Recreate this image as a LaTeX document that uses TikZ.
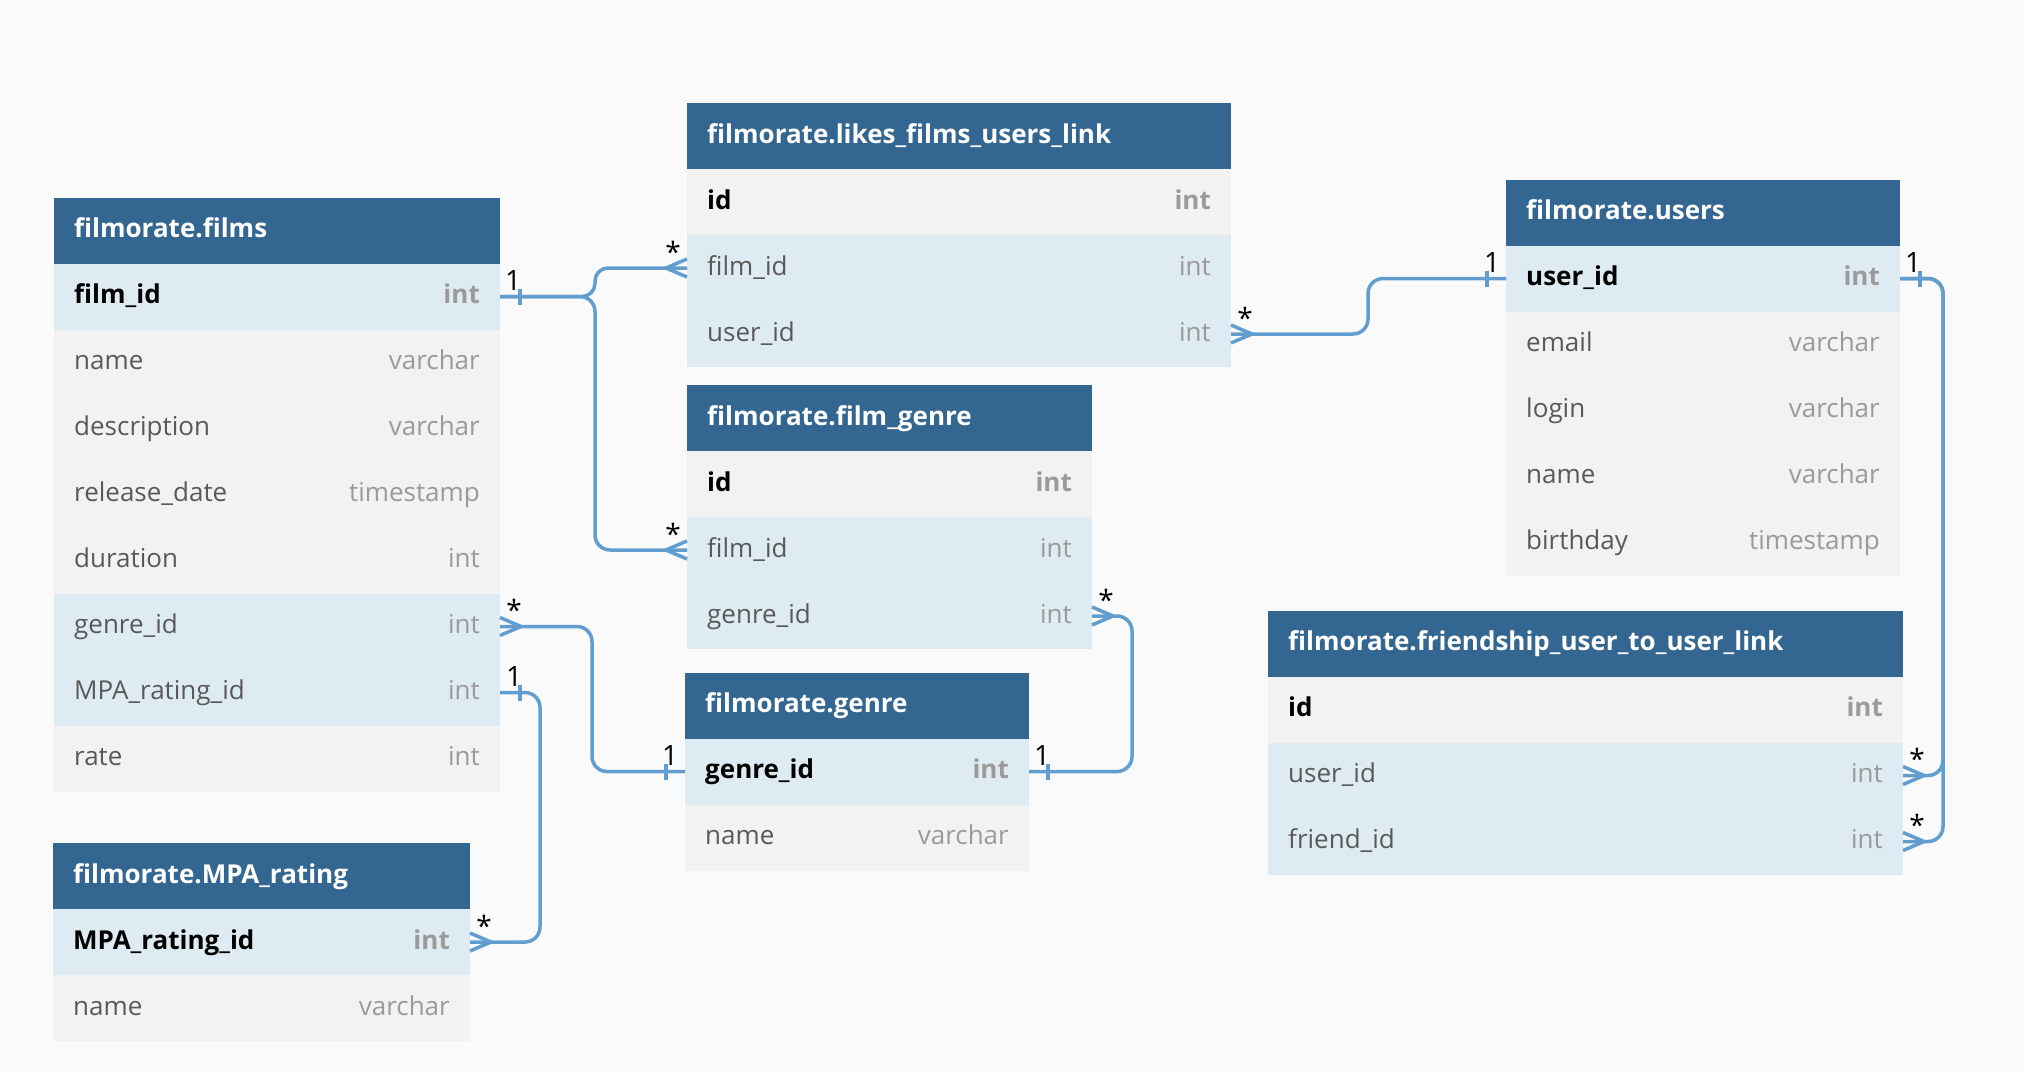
\documentclass[tikz,border=0pt]{standalone}
\usepackage{fontspec}
\setmainfont{Open Sans}
\definecolor{bgc}{HTML}{FAFAFA}
\definecolor{hdrc}{HTML}{336791}
\definecolor{bluerow}{HTML}{DFEBF2}
\definecolor{greyrow}{HTML}{F2F2F2}
\definecolor{linkc}{HTML}{619ECF}
\definecolor{fieldc}{HTML}{595959}
\definecolor{typec}{HTML}{9A9A9A}
\tikzset{
  hdr/.style={rectangle, fill=hdrc, minimum height=66pt, inner sep=0pt, outer sep=0pt},
  rowbox/.style={rectangle, minimum height=66pt, inner sep=0pt, outer sep=0pt},
  bl/.style={fill=bluerow},
  gr/.style={fill=greyrow},
  titletext/.style={inner sep=0pt, text=white, font=\fontsize{26}{31}\selectfont\bfseries},
  pk/.style={inner sep=0pt, text=black, font=\fontsize{26}{31}\selectfont\bfseries},
  nk/.style={inner sep=0pt, text=fieldc, font=\fontsize{26}{31}\selectfont},
  rel/.style={draw=linkc, line width=3.5pt, rounded corners=15pt},
  relshort/.style={draw=linkc, line width=3.5pt, rounded corners=13pt},
  footst/.style={draw=linkc, line width=3.5pt, line join=round},
  tickst/.style={draw=linkc, line width=3.5pt},
  card/.style={inner sep=0pt, text=black, font=\fontsize{28}{32}\selectfont},
}
\newcommand{\mktable}[6]{%
  \node[hdr, minimum width=#4pt, anchor=north west] (#1) at (#2,#3) {};
  \node[titletext, anchor=base west] (#1-title) at ([xshift=20pt,yshift=-7pt]#1.west) {#5};
  \foreach \k/\lab/\typ/\fs/\ts [count=\i] in {#6} {
    \node[rowbox, \fs, minimum width=#4pt, anchor=north west] (#1-\k) at (#2,#3+66*\i) {};
    \node[\ts, anchor=base west] (#1-\k-n) at ([xshift=20pt,yshift=-7pt]#1-\k.west) {\lab};
    \node[\ts, text=typec, anchor=base east] (#1-\k-t) at ([xshift=-20pt,yshift=-7pt]#1-\k.east) {\typ};
  }
}
\begin{document}
\begin{tikzpicture}[x=1pt, y=-1pt]
\fill[bgc] (0,0) rectangle (2024,1072);
\useasboundingbox (0,0) rectangle (2024,1072);

\mktable{films}{54}{197.5}{446}{filmorate.films}{%
  filmid/film\_id/int/bl/pk,
  name/name/varchar/gr/nk,
  desc/description/varchar/gr/nk,
  rel/release\_date/timestamp/gr/nk,
  dur/duration/int/gr/nk,
  genreid/genre\_id/int/bl/nk,
  mpaid/MPA\_rating\_id/int/bl/nk,
  rate/rate/int/gr/nk}

\mktable{likes}{687}{103}{544}{filmorate.likes\_films\_users\_link}{%
  id/id/int/gr/pk,
  filmid/film\_id/int/bl/nk,
  userid/user\_id/int/bl/nk}

\mktable{users}{1506}{179.5}{394}{filmorate.users}{%
  userid/user\_id/int/bl/pk,
  email/email/varchar/gr/nk,
  login/login/varchar/gr/nk,
  name/name/varchar/gr/nk,
  bday/birthday/timestamp/gr/nk}

\mktable{fg}{687}{385}{405}{filmorate.film\_genre}{%
  id/id/int/gr/pk,
  filmid/film\_id/int/bl/nk,
  genreid/genre\_id/int/bl/nk}

\mktable{genre}{685}{672.5}{344}{filmorate.genre}{%
  genreid/genre\_id/int/bl/pk,
  name/name/varchar/gr/nk}

\mktable{mpa}{53}{843}{417}{filmorate.MPA\_rating}{%
  mpaid/MPA\_rating\_id/int/bl/pk,
  name/name/varchar/gr/nk}

\mktable{fr}{1268}{610.5}{635}{filmorate.friendship\_user\_to\_user\_link}{%
  id/id/int/gr/pk,
  userid/user\_id/int/bl/nk,
  friendid/friend\_id/int/bl/nk}

% films.film_id -> likes.film_id, film_genre.film_id
\draw[relshort] (films-filmid.east) -- ++(95,0) |- (likes-filmid.west);
\draw[rel] (films-filmid.east) -- ++(95,0) |- (fg-filmid.west);
\draw[tickst] ([xshift=20pt,yshift=8pt]films-filmid.east) -- ([xshift=20pt,yshift=-8pt]films-filmid.east);
\draw[footst] ([yshift=9pt]likes-filmid.west) -- ([xshift=-21pt]likes-filmid.west) -- ([yshift=-9pt]likes-filmid.west);
\draw[footst] ([yshift=9pt]fg-filmid.west) -- ([xshift=-21pt]fg-filmid.west) -- ([yshift=-9pt]fg-filmid.west);
\node[card, anchor=base] (c1) at ([xshift=13pt,yshift=6pt]films-filmid.east) {1};
\node[card, anchor=base] (c2) at ([xshift=-14pt,yshift=6pt]likes-filmid.west) {*};
\node[card, anchor=base] (c3) at ([xshift=-14pt,yshift=6pt]fg-filmid.west) {*};

% likes.user_id -> users.user_id
\draw[rel] (likes-userid.east) -- ++(137,0) |- (users-userid.west);
\draw[footst] ([yshift=9pt]likes-userid.east) -- ([xshift=21pt]likes-userid.east) -- ([yshift=-9pt]likes-userid.east);
\draw[tickst] ([xshift=-19pt,yshift=8pt]users-userid.west) -- ([xshift=-19pt,yshift=-8pt]users-userid.west);
\node[card, anchor=base] (c4) at ([xshift=14pt,yshift=6pt]likes-userid.east) {*};
\node[card, anchor=base] (c5) at ([xshift=-14pt,yshift=6pt]users-userid.west) {1};

% users.user_id -> friendship.user_id, friend_id
\draw[rel] (users-userid.east) -- ++(43,0) |- (fr-userid.east);
\draw[rel] (users-userid.east) -- ++(43,0) |- (fr-friendid.east);
\draw[tickst] ([xshift=20pt,yshift=8pt]users-userid.east) -- ([xshift=20pt,yshift=-8pt]users-userid.east);
\draw[footst] ([yshift=9pt]fr-userid.east) -- ([xshift=21pt]fr-userid.east) -- ([yshift=-9pt]fr-userid.east);
\draw[footst] ([yshift=9pt]fr-friendid.east) -- ([xshift=21pt]fr-friendid.east) -- ([yshift=-9pt]fr-friendid.east);
\node[card, anchor=base] (c6) at ([xshift=13pt,yshift=6pt]users-userid.east) {1};
\node[card, anchor=base] (c7) at ([xshift=14pt,yshift=6pt]fr-userid.east) {*};
\node[card, anchor=base] (c8) at ([xshift=14pt,yshift=6pt]fr-friendid.east) {*};

% films.genre_id -> genre.genre_id
\draw[rel] (films-genreid.east) -- ++(92,0) |- (genre-genreid.west);
\draw[footst] ([yshift=9pt]films-genreid.east) -- ([xshift=21pt]films-genreid.east) -- ([yshift=-9pt]films-genreid.east);
\draw[tickst] ([xshift=-19pt,yshift=8pt]genre-genreid.west) -- ([xshift=-19pt,yshift=-8pt]genre-genreid.west);
\node[card, anchor=base] (c9) at ([xshift=14pt,yshift=6pt]films-genreid.east) {*};
\node[card, anchor=base] (c10) at ([xshift=-15pt,yshift=6pt]genre-genreid.west) {1};

% films.MPA_rating_id -> MPA_rating.MPA_rating_id
\draw[rel] (films-mpaid.east) -- ++(40,0) |- (mpa-mpaid.east);
\draw[tickst] ([xshift=20pt,yshift=8pt]films-mpaid.east) -- ([xshift=20pt,yshift=-8pt]films-mpaid.east);
\draw[footst] ([yshift=9pt]mpa-mpaid.east) -- ([xshift=21pt]mpa-mpaid.east) -- ([yshift=-9pt]mpa-mpaid.east);
\node[card, anchor=base] (c11) at ([xshift=14pt,yshift=6pt]films-mpaid.east) {1};
\node[card, anchor=base] (c12) at ([xshift=14pt,yshift=6pt]mpa-mpaid.east) {*};

% film_genre.genre_id -> genre.genre_id
\draw[rel] (fg-genreid.east) -- ++(40,0) |- (genre-genreid.east);
\draw[footst] ([yshift=9pt]fg-genreid.east) -- ([xshift=21pt]fg-genreid.east) -- ([yshift=-9pt]fg-genreid.east);
\draw[tickst] ([xshift=19pt,yshift=8pt]genre-genreid.east) -- ([xshift=19pt,yshift=-8pt]genre-genreid.east);
\node[card, anchor=base] (c13) at ([xshift=14pt,yshift=6pt]fg-genreid.east) {*};
\node[card, anchor=base] (c14) at ([xshift=13pt,yshift=6pt]genre-genreid.east) {1};
\end{tikzpicture}
\end{document}
